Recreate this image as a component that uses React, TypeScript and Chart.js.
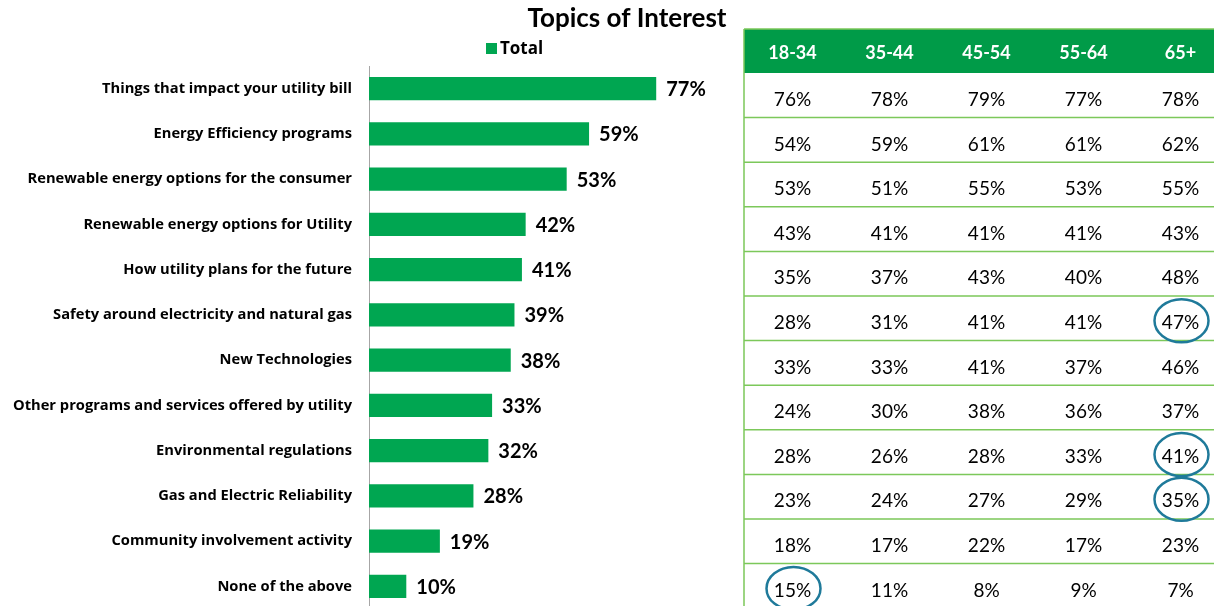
import React, { useEffect, useRef } from "react";
import { Chart, registerables } from "chart.js";

Chart.register(...registerables);

const categories = [
  "Things that impact your utility bill",
  "Energy Efficiency programs",
  "Renewable energy options for the consumer",
  "Renewable energy options for Utility",
  "How utility plans for the future",
  "Safety around electricity and natural gas",
  "New Technologies",
  "Other programs and services offered by utility",
  "Environmental regulations",
  "Gas and Electric Reliability",
  "Community involvement activity",
  "None of the above",
];
const totals = [77, 59, 53, 42, 41, 39, 38, 33, 32, 28, 19, 10];

const ageGroups = ["18-34", "35-44", "45-54", "55-64", "65+"];
const age1834 = [76, 54, 53, 43, 35, 28, 33, 24, 28, 23, 18, 15];
const age3544 = [78, 59, 51, 41, 37, 31, 33, 30, 26, 24, 17, 11];
const age4554 = [79, 61, 55, 41, 43, 41, 41, 38, 28, 27, 22, 8];
const age5564 = [77, 61, 53, 41, 40, 41, 37, 36, 33, 29, 17, 9];
const age65plus = [78, 62, 55, 43, 48, 47, 46, 37, 41, 35, 23, 7];
// highlighted cells: [row index, column index]
const highlights = [
  [5, 4],
  [8, 4],
  [9, 4],
  [11, 0],
];

const TITLE = "Topics of Interest";
const SERIES = "Total";

const FONT = "Lato, 'Open Sans', sans-serif";
const LABEL_FONT = "'Open Sans', Lato, sans-serif";
const BAR_GREEN = "#00A651";
const HEAD_GREEN = "#009B48";
const LINE_GREEN = "#7CC85A";
const CIRCLE = "#1F7A9A";

export default function App() {
  const ref = useRef<HTMLCanvasElement | null>(null);

  useEffect(() => {
    const canvas = ref.current;
    if (!canvas) return;
    const columns = [age1834, age3544, age4554, age5564, age65plus];

    const overlay = {
      id: "overlay",
      afterDraw(chart: any) {
        const ctx = chart.ctx as CanvasRenderingContext2D;
        ctx.save();
        // value labels
        const meta = chart.getDatasetMeta(0);
        ctx.fillStyle = "#000";
        ctx.font = `bold 20px ${FONT}`;
        ctx.textAlign = "left";
        ctx.textBaseline = "middle";
        meta.data.forEach((bar: any, i: number) => {
          ctx.fillText(`${totals[i]}%`, bar.x + 10, bar.y + 1);
        });

        // title
        ctx.font = `bold 26px ${FONT}`;
        ctx.textAlign = "center";
        ctx.textBaseline = "middle";
        ctx.fillText(TITLE, 627, 19);

        // legend
        ctx.fillStyle = BAR_GREEN;
        ctx.fillRect(486, 43, 11, 11);
        ctx.fillStyle = "#000";
        ctx.font = `bold 17px ${LABEL_FONT}`;
        ctx.textAlign = "left";
        ctx.fillText(SERIES, 500, 49);

        // table
        const left = 744;
        const right = chart.width;
        const top = 29;
        const headH = 44;
        const rowH = 44.6;
        const colW = 97;
        const bodyTop = top + headH;
        ctx.fillStyle = HEAD_GREEN;
        ctx.fillRect(left, top, right - left, headH);
        ctx.fillStyle = "#fff";
        ctx.font = `bold 18px ${FONT}`;
        ctx.textAlign = "center";
        ageGroups.forEach((g, c) => {
          ctx.fillText(g, left + colW * c + colW / 2, top + headH / 2 + 2.5);
        });
        ctx.strokeStyle = LINE_GREEN;
        ctx.lineWidth = 1.5;
        ctx.beginPath();
        ctx.moveTo(left, top);
        ctx.lineTo(left, chart.height);
        ctx.moveTo(left, top);
        ctx.lineTo(right, top);
        for (let r = 1; r < categories.length; r++) {
          const y = bodyTop + rowH * r;
          ctx.moveTo(left, y);
          ctx.lineTo(right, y);
        }
        ctx.stroke();
        ctx.fillStyle = "#000";
        ctx.font = `19px ${FONT}`;
        columns.forEach((col, c) => {
          col.forEach((v, r) => {
            ctx.fillText(
              `${v}%`,
              left + colW * c + colW / 2,
              bodyTop + rowH * r + rowH / 2 + 4.5
            );
          });
        });
        ctx.strokeStyle = CIRCLE;
        ctx.lineWidth = 2.5;
        highlights.forEach(([r, c]) => {
          ctx.beginPath();
          ctx.ellipse(
            left + colW * c + colW / 2 + 1,
            bodyTop + rowH * r + rowH / 2 + 2.5,
            27,
            21.5,
            0,
            0,
            Math.PI * 2
          );
          ctx.stroke();
        });
        ctx.restore();
      },
    };

    const chart = new Chart(canvas, {
      type: "bar",
      data: {
        labels: categories,
        datasets: [
          {
            label: SERIES,
            data: totals,
            backgroundColor: BAR_GREEN,
            borderWidth: 0,
            barPercentage: 1,
            categoryPercentage: 0.51,
          },
        ],
      },
      options: {
        indexAxis: "y",
        responsive: false,
        animation: false,
        layout: { padding: { top: 66, right: 472, bottom: 1, left: 0 } },
        plugins: {
          legend: { display: false },
          title: { display: false },
          tooltip: { enabled: false },
        },
        scales: {
          x: { min: 0, max: 100, display: false },
          y: {
            grid: { display: false, drawTicks: false },
            border: { display: true, color: "#A6A6A6", width: 1 },
            ticks: {
              color: "#000",
              padding: 17,
              font: { family: LABEL_FONT, weight: "bold", size: 14.7 },
            },
            afterFit: (s: any) => {
              s.width = 369;
              s.paddingTop = 0;
              s.paddingBottom = 0;
            },
          },
        },
      },
      plugins: [overlay],
    } as any);
    return () => chart.destroy();
  }, []);

  return (
    <div
      style={{
        position: "fixed",
        left: 0,
        top: 0,
        width: 1214,
        height: 606,
        overflow: "hidden",
        background: "#fff",
      }}
    >
      <canvas ref={ref} width={1214} height={610} style={{ display: "block" }} />
    </div>
  );
}
